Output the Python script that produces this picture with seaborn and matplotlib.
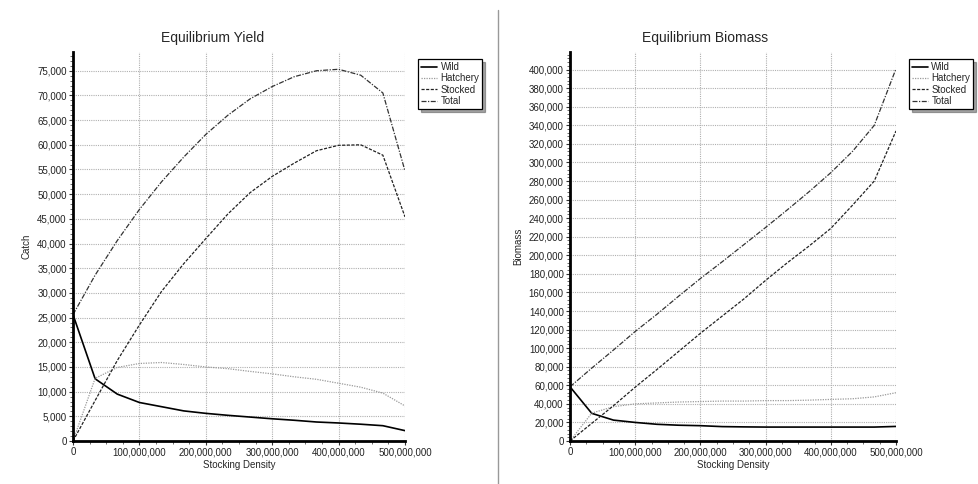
import numpy as np
import pandas as pd
import matplotlib
matplotlib.use("Agg")
import matplotlib.pyplot as plt
from matplotlib.ticker import FuncFormatter, MultipleLocator
from matplotlib.lines import Line2D
import seaborn as sns

sns.set_style("white")
plt.rcParams['font.family'] = ['Liberation Sans', 'DejaVu Sans']

# stocking density (fish released)
density = [0, 33333333, 66666667, 100000000, 133333333, 166666667, 200000000,
           233333333, 266666667, 300000000, 333333333, 366666667, 400000000,
           433333333, 466666667, 500000000]

# Equilibrium Yield (catch)
yield_wild = [25600, 12600, 9500, 7800, 6950, 6100, 5600, 5200, 4850, 4500,
              4200, 3850, 3650, 3400, 3100, 2100]
yield_hatchery = [0, 12700, 14900, 15700, 15900, 15500, 15000, 14650, 14100,
                  13600, 13000, 12500, 11700, 10900, 9700, 7100]
yield_stocked = [0, 8200, 16300, 23500, 30300, 35900, 41000, 46000, 50300,
                 53600, 56300, 58800, 59900, 60000, 57900, 45400]
yield_total = [25600, 33600, 40600, 46900, 52500, 57500, 62100, 66000, 69300,
               71800, 73800, 75000, 75300, 74100, 70500, 54700]

# Equilibrium Biomass
bio_wild = [58400, 29800, 22500, 20000, 18000, 17000, 16500, 15500, 15200,
            15000, 15000, 15000, 15000, 15000, 15000, 15700]
bio_hatchery = [0, 30000, 37000, 40000, 41000, 42000, 42500, 43000, 43000,
                43500, 43500, 44000, 44800, 45500, 47500, 52000]
bio_stocked = [0, 19000, 38000, 58000, 77000, 96500, 116000, 134500, 153000,
               173000, 192000, 210000, 229000, 254000, 280000, 334000]
bio_total = [58400, 78500, 98000, 118000, 136500, 156000, 175000, 193000,
             211500, 230000, 249000, 268500, 289000, 312000, 340000, 401000]

series = ["Wild", "Hatchery", "Stocked", "Total"]
styles = {
    "Wild": dict(color="black", lw=1.2, linestyle="-"),
    "Hatchery": dict(color="#9a9a9a", lw=0.9, linestyle=(0, (1, 1))),
    "Stocked": dict(color="#222222", lw=0.9, linestyle=(0, (2.5, 1.2))),
    "Total": dict(color="#333333", lw=0.9, linestyle=(0, (4, 1.2, 1, 1.2))),
}

yld = pd.DataFrame({"density": density, "Wild": yield_wild, "Hatchery": yield_hatchery,
                    "Stocked": yield_stocked, "Total": yield_total})
bio = pd.DataFrame({"density": density, "Wild": bio_wild, "Hatchery": bio_hatchery,
                    "Stocked": bio_stocked, "Total": bio_total})

fig = plt.figure(figsize=(9.79, 4.84), dpi=100)
ax1 = fig.add_axes([73/979, 43/484, 332/979, 389/484])
ax2 = fig.add_axes([570/979, 43/484, 326/979, 389/484])

comma = FuncFormatter(lambda v, p: "{:,.0f}".format(v))


def draw(ax, df, title, ylabel, ymax, ystep, tx):
    for s in series:
        sns.lineplot(x=df["density"], y=df[s], ax=ax, label=s, **styles[s])
    ax.set_xlim(0, 500000000)
    ax.set_ylim(0, ymax)
    ax.xaxis.set_major_locator(MultipleLocator(100000000))
    ax.xaxis.set_minor_locator(MultipleLocator(25000000))
    ax.yaxis.set_major_locator(MultipleLocator(ystep))
    ax.yaxis.set_minor_locator(MultipleLocator(ystep / 5))
    ax.xaxis.set_major_formatter(comma)
    ax.yaxis.set_major_formatter(comma)
    ax.grid(True, which="major", color="#b0b0b0", linestyle=(0, (1, 1)), lw=0.8)
    for sp in ["top", "right"]:
        ax.spines[sp].set_visible(False)
    for sp in ["left", "bottom"]:
        ax.spines[sp].set_linewidth(2)
        ax.spines[sp].set_color("black")
    ax.tick_params(which="major", direction="out", length=3, width=0.8,
                   labelsize=7, pad=1.5, left=True, bottom=True, colors="#333333",
                   labelcolor="#222222")
    ax.tick_params(which="minor", direction="out", length=2, width=0.6,
                   left=True, bottom=True, colors="#555555")
    ax.set_xlabel("Stocking Density", fontsize=7, labelpad=2)
    ax.set_ylabel(ylabel, fontsize=7, labelpad=4)
    ax.set_title(title, fontsize=10, x=tx, pad=7)
    leg = ax.legend(loc="upper left", bbox_to_anchor=(1.04, 0.982), borderaxespad=0,
                    fontsize=7, frameon=True, fancybox=False, shadow=True,
                    handlelength=1.6, handletextpad=0.4, labelspacing=0.15,
                    borderpad=0.3)
    leg.get_frame().set_edgecolor("black")
    leg.get_frame().set_linewidth(0.9)


draw(ax1, yld, "Equilibrium Yield", "Catch", 78800, 5000, 0.42)
draw(ax2, bio, "Equilibrium Biomass", "Biomass", 419000, 20000, 0.414)

fig.add_artist(Line2D([498/979, 498/979], [0, 1 - 10/484], color="#999999", lw=1))

fig.savefig("out.png", dpi=100)
